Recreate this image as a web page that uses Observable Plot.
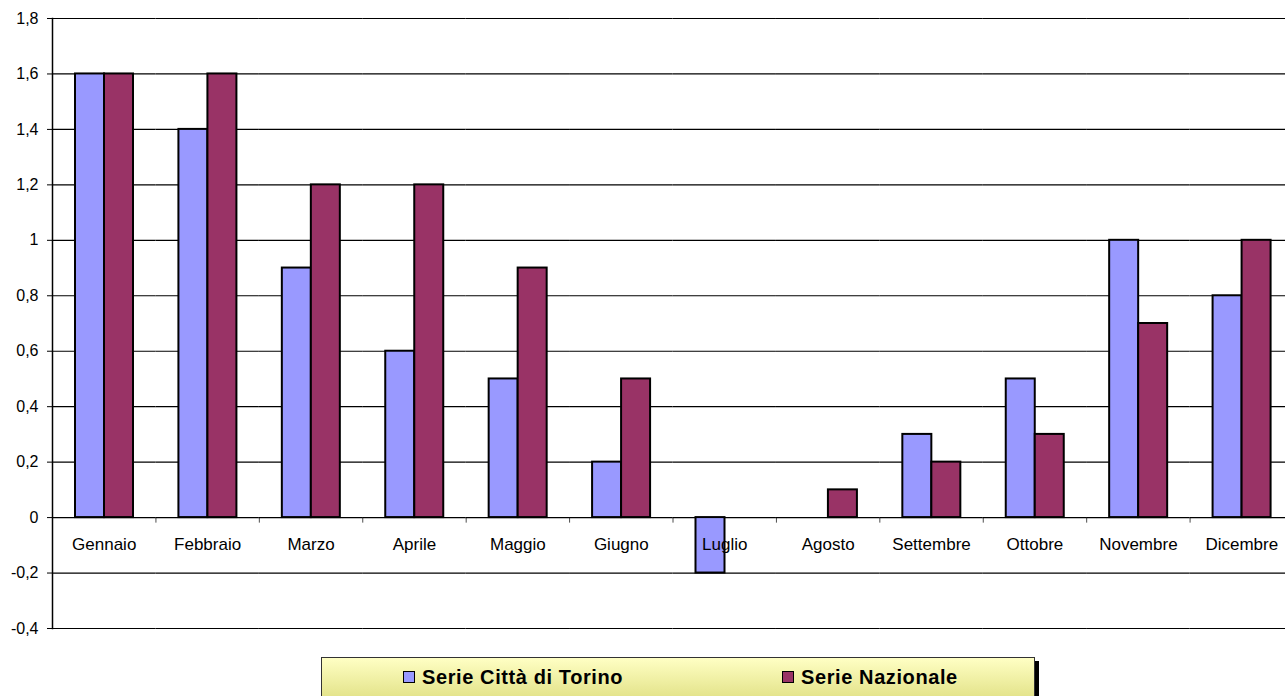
<!DOCTYPE html>
<html>
<head>
<meta charset="utf-8">
<script src="https://cdn.jsdelivr.net/npm/d3@7"></script>
<script src="https://cdn.jsdelivr.net/npm/@observablehq/plot@0.6"></script>
<style>
  html, body { margin: 0; padding: 0; background: #fff; }
  #wrap { position: relative; width: 1285px; height: 696px; overflow: hidden; font-family: "Liberation Sans", Arial, sans-serif; }
  #wrap svg { max-width: none !important; }
  #legend { position: absolute; left: 321px; top: 657px; width: 714px; height: 40px; box-sizing: border-box;
    border: 1px solid #333; background: linear-gradient(#FFFFC4, #E4E48C); box-shadow: 4px 4px 0 #000; }
  .item { position: absolute; top: 8px; font-weight: bold; font-size: 20px; letter-spacing: 0.6px; color: #000; white-space: nowrap; line-height: 22px; }
  .sw { display: inline-block; width: 10px; height: 10px; border: 1px solid #000; margin-right: 7px; vertical-align: 1px; }
</style>
</head>
<body>
<div id="wrap"></div>
<script>
const months = ["Gennaio","Febbraio","Marzo","Aprile","Maggio","Giugno","Luglio","Agosto","Settembre","Ottobre","Novembre","Dicembre"];
const series = ["Serie Città di Torino", "Serie Nazionale"];
const colors = ["#9999FF", "#993366"];
const torino = [1.6, 1.4, 0.9, 0.6, 0.5, 0.2, -0.2, 0, 0.3, 0.5, 1.0, 0.8];
const nazionale = [1.6, 1.6, 1.2, 1.2, 0.9, 0.5, 0, 0.1, 0.2, 0.3, 0.7, 1.0];
const yTicks = [-0.4, -0.2, 0, 0.2, 0.4, 0.6, 0.8, 1, 1.2, 1.4, 1.6, 1.8];

const data = [];
months.forEach((m, i) => {
  data.push({month: m, series: series[0], value: torino[i]});
  data.push({month: m, series: series[1], value: nazionale[i]});
});
const bars = data.filter(d => d.value !== 0);
const fmt = d => String(d).replace(".", ",");

const chart = Plot.plot({
  width: 1293,
  height: 696,
  marginLeft: 52,
  marginRight: 0,
  marginTop: 18,
  marginBottom: 68,
  style: {fontFamily: "'Liberation Sans', Arial, sans-serif", background: "#fff", maxWidth: "none"},
  fx: {domain: months, paddingInner: 0, paddingOuter: 0, axis: null, round: false},
  x: {domain: series, paddingInner: 0, paddingOuter: 0.75, axis: null},
  y: {domain: [-0.4, 1.8], axis: null, label: null},
  color: {domain: series, range: colors},
  marks: [
    Plot.ruleY(yTicks, {stroke: "#000", strokeWidth: 1.2, strokeOpacity: 1}),
    Plot.barY(bars, {fx: "month", x: "series", y: "value", fill: "series", stroke: "#000", strokeWidth: 2}),
    Plot.ruleX(months.slice(1), {fx: d => d, x: null, y1: 0, y2: -0.02, dx: -51.7, stroke: "#000", strokeWidth: 1, strokeOpacity: 0.7}),
    Plot.text(months, {fx: d => d, text: d => d, y: 0, dy: 27, fontSize: 17, fill: "#000"}),
    Plot.frame({anchor: "left", facetAnchor: "left", stroke: "#000", strokeWidth: 1.5}),
    Plot.axisY(yTicks, {anchor: "left", label: null, tickSize: 5, tickPadding: 9, tickFormat: fmt, fontSize: 16, stroke: "#000", fill: "#000"})
  ]
});
document.getElementById("wrap").appendChild(chart);

const legend = document.createElement("div");
legend.id = "legend";
const lefts = [81, 460];
series.forEach((s, i) => {
  const it = document.createElement("div");
  it.className = "item";
  it.style.left = lefts[i] + "px";
  const sw = document.createElement("span");
  sw.className = "sw";
  sw.style.background = colors[i];
  it.appendChild(sw);
  it.appendChild(document.createTextNode(s));
  legend.appendChild(it);
});
document.getElementById("wrap").appendChild(legend);
</script>
</body>
</html>
